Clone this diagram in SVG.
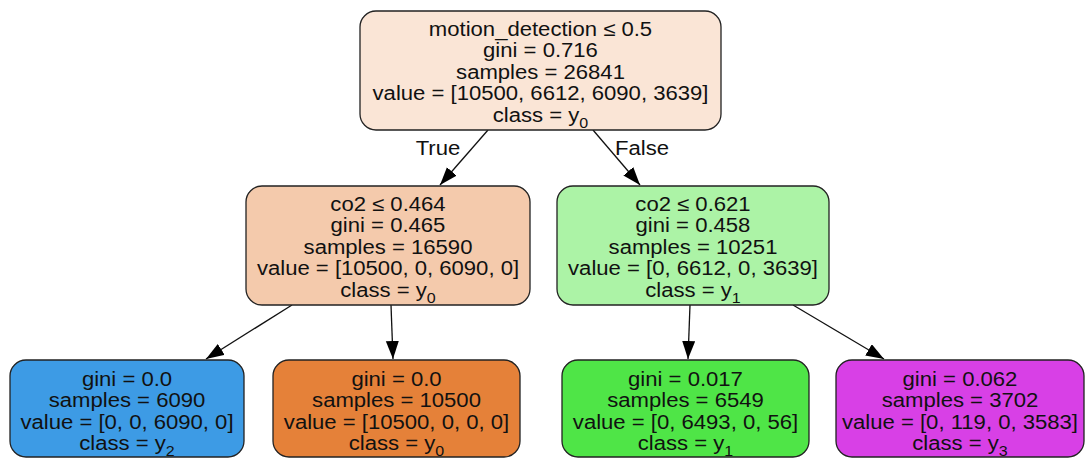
<svg xmlns="http://www.w3.org/2000/svg" width="1086" height="458" viewBox="0 0 1086 458">
<style>
  .box { stroke: #222; stroke-width: 1.3; }
  .t { font-family: "Liberation Sans", Arial, sans-serif; font-size: 20px; fill: #111; text-anchor: middle; }
  .sub { font-size: 14.5px; }
  .edge { stroke: #111; stroke-width: 1.3; fill: none; marker-end: url(#arr); }
</style>
<defs>
  <marker id="arr" markerUnits="userSpaceOnUse" markerWidth="19" markerHeight="14" refX="18" refY="6.5" orient="auto">
    <path d="M0,0 L18,6.5 L0,13 Z" fill="#000"/>
  </marker>
</defs>
<rect width="1086" height="458" fill="#fff"/>

<g id="edges">
  <line class="edge" x1="488" y1="130" x2="440" y2="185"/>
  <line class="edge" x1="593" y1="130" x2="640" y2="185"/>
  <line class="edge" x1="292" y1="305" x2="206" y2="359"/>
  <line class="edge" x1="391" y1="305" x2="393" y2="359"/>
  <line class="edge" x1="690" y1="305" x2="688" y2="359"/>
  <line class="edge" x1="793" y1="305" x2="884" y2="359"/>
  <text class="t" transform="translate(438,155) scale(1.105,1)">True</text>
  <text class="t" transform="translate(642,155) scale(1.105,1)">False</text>
</g>

<g id="node0">
  <rect class="box" x="360" y="11" width="361" height="119" rx="16" fill="#fae5d6"/>
  <g transform="translate(540.5,0) scale(1.105,1)">
    <text class="t" y="36">motion_detection ≤ 0.5</text>
    <text class="t" y="57.5">gini = 0.716</text>
    <text class="t" y="79">samples = 26841</text>
    <text class="t" y="100.5">value = [10500, 6612, 6090, 3639]</text>
    <text class="t" y="122">class = y<tspan class="sub" dy="6">0</tspan></text>
  </g>
</g>

<g id="node1">
  <rect class="box" x="246" y="186" width="284" height="119" rx="16" fill="#f4caac"/>
  <g transform="translate(388,175) scale(1.105,1)">
    <text class="t" y="36">co2 ≤ 0.464</text>
    <text class="t" y="57.5">gini = 0.465</text>
    <text class="t" y="79">samples = 16590</text>
    <text class="t" y="100.5">value = [10500, 0, 6090, 0]</text>
    <text class="t" y="122">class = y<tspan class="sub" dy="6">0</tspan></text>
  </g>
</g>

<g id="node4">
  <rect class="box" x="557" y="186" width="272" height="119" rx="16" fill="#acf3a6"/>
  <g transform="translate(693,175) scale(1.105,1)">
    <text class="t" y="36">co2 ≤ 0.621</text>
    <text class="t" y="57.5">gini = 0.458</text>
    <text class="t" y="79">samples = 10251</text>
    <text class="t" y="100.5">value = [0, 6612, 0, 3639]</text>
    <text class="t" y="122">class = y<tspan class="sub" dy="6">1</tspan></text>
  </g>
</g>

<g id="node2">
  <rect class="box" x="10" y="360" width="234" height="97" rx="16" fill="#3d9be5"/>
  <g transform="translate(127,0) scale(1.105,1)">
    <text class="t" y="386">gini = 0.0</text>
    <text class="t" y="407.5">samples = 6090</text>
    <text class="t" y="429">value = [0, 0, 6090, 0]</text>
    <text class="t" y="450.5">class = y<tspan class="sub" dy="6">2</tspan></text>
  </g>
</g>

<g id="node3">
  <rect class="box" x="273" y="360" width="247" height="97" rx="16" fill="#e58139"/>
  <g transform="translate(396.5,0) scale(1.105,1)">
    <text class="t" y="386">gini = 0.0</text>
    <text class="t" y="407.5">samples = 10500</text>
    <text class="t" y="429">value = [10500, 0, 0, 0]</text>
    <text class="t" y="450.5">class = y<tspan class="sub" dy="6">0</tspan></text>
  </g>
</g>

<g id="node5">
  <rect class="box" x="562" y="360" width="247" height="97" rx="16" fill="#4fe547"/>
  <g transform="translate(685.5,0) scale(1.105,1)">
    <text class="t" y="386">gini = 0.017</text>
    <text class="t" y="407.5">samples = 6549</text>
    <text class="t" y="429">value = [0, 6493, 0, 56]</text>
    <text class="t" y="450.5">class = y<tspan class="sub" dy="6">1</tspan></text>
  </g>
</g>

<g id="node6">
  <rect class="box" x="836" y="360" width="248" height="97" rx="16" fill="#d840e6"/>
  <g transform="translate(960,0) scale(1.105,1)">
    <text class="t" y="386">gini = 0.062</text>
    <text class="t" y="407.5">samples = 3702</text>
    <text class="t" y="429">value = [0, 119, 0, 3583]</text>
    <text class="t" y="450.5">class = y<tspan class="sub" dy="6">3</tspan></text>
  </g>
</g>
</svg>
